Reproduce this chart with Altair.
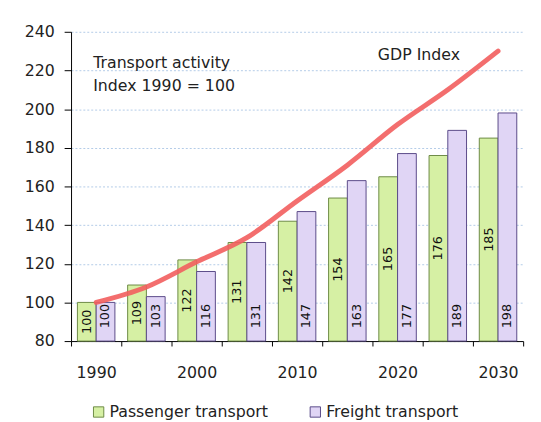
import altair as alt
import pandas as pd

years = ["1990", "1995", "2000", "2005", "2010", "2015", "2020", "2025", "2030"]
passenger = [100, 109, 122, 131, 142, 154, 165, 176, 185]
freight = [100, 103, 116, 131, 147, 163, 177, 189, 198]
gdp = [100, 108, 121, 133.5, 152.5, 171, 192, 210, 230]
series_names = ["Passenger transport", "Freight transport"]
fill_colors = ["#d6f0a4", "#e0d5f5"]
stroke_colors = ["#6d8a45", "#5a4a88"]
label_years = ["1990", "2000", "2010", "2020", "2030"]
y_ticks = [80, 100, 120, 140, 160, 180, 200, 220, 240]

FONT = "DejaVu Sans"

rows = []
for i, y in enumerate(years):
    rows.append({"year": y, "series": series_names[0], "value": passenger[i]})
    rows.append({"year": y, "series": series_names[1], "value": freight[i]})
bars_df = pd.DataFrame(rows)
bars_df["base"] = 80
bars_df["mid"] = (bars_df["value"] + 80) / 2

gdp_df = pd.DataFrame({"year": years, "gdp": gdp})

x_scale = alt.Scale(domain=years, paddingInner=0, paddingOuter=0)
y_scale = alt.Scale(domain=[80, 240], nice=False, zero=False)
off_scale = alt.Scale(domain=series_names, paddingInner=0, paddingOuter=0.34)

label_expr = "indexof(" + str(label_years) + ", datum.label) >= 0 ? datum.label : ''"

x_axis = alt.Axis(
    title=None,
    labelExpr=label_expr,
    labelAngle=0,
    tickBand="extent",
    tickSize=5,
    tickColor="#000000",
    domainColor="#000000",
    labelPadding=19,
    labelFontSize=16,
    labelFont=FONT,
    labelColor="#222222",
    labelOverlap=False,
    grid=False,
)

y_axis = alt.Axis(
    title=None,
    values=y_ticks,
    tickSize=7,
    tickColor="#000000",
    domainColor="#000000",
    labelPadding=10,
    labelFontSize=16,
    labelFont=FONT,
    labelColor="#222222",
    labelOverlap=False,
    grid=True,
    gridColor="#b3cbe8",
    gridDash=[2, 2],
    gridWidth=1,
)


def xe():
    return alt.X("year:N", scale=x_scale, sort=years, axis=x_axis)


def ye(field):
    return alt.Y(field, scale=y_scale, axis=y_axis)


legend = alt.Legend(
    title=None,
    orient="none",
    legendX=20,
    legendY=378,
    direction="horizontal",
    symbolType="square",
    symbolSize=110,
    symbolStrokeWidth=1,
    labelFontSize=16,
    labelFont=FONT,
    labelColor="#222222",
    labelOffset=3,
    labelLimit=400,
    columnPadding=40,
    padding=0,
)

bars = alt.Chart(bars_df).mark_bar(strokeWidth=1).encode(
    x=xe(),
    xOffset=alt.XOffset("series:N", scale=off_scale, sort=series_names),
    y=ye("value:Q"),
    y2=alt.Y2("base:Q"),
    fill=alt.Fill(
        "series:N",
        scale=alt.Scale(domain=series_names, range=fill_colors),
        sort=series_names,
        legend=legend,
    ),
    stroke=alt.Stroke(
        "series:N",
        scale=alt.Scale(domain=series_names, range=stroke_colors),
        sort=series_names,
        legend=legend,
    ),
)

pass_labels = alt.Chart(bars_df).transform_filter(
    alt.datum.series == series_names[0]
).mark_text(angle=270, align="center", baseline="middle", font=FONT, fontSize=13, color="#111111").encode(
    x=xe(),
    xOffset=alt.XOffset("series:N", scale=off_scale, sort=series_names),
    y=ye("mid:Q"),
    text=alt.Text("value:Q"),
)

freight_labels = alt.Chart(bars_df).transform_filter(
    alt.datum.series == series_names[1]
).mark_text(angle=270, align="left", baseline="middle", dx=13, font=FONT, fontSize=13, color="#111111").encode(
    x=xe(),
    xOffset=alt.XOffset("series:N", scale=off_scale, sort=series_names),
    y=ye("base:Q"),
    text=alt.Text("value:Q"),
)

gdp_line = alt.Chart(gdp_df).mark_line(
    color="#f25e5e", strokeWidth=5, opacity=0.9, interpolate="monotone", strokeCap="round"
).encode(
    x=xe(),
    y=ye("gdp:Q"),
)

note_df = pd.DataFrame({
    "year": ["1990", "1990"],
    "pos": [224, 212],
    "txt": ["Transport activity", "Index 1990  = 100"],
})
gdp_note_df = pd.DataFrame({"year": ["2020"], "pos": [228], "txt": ["GDP Index"]})

notes = alt.Chart(note_df).mark_text(
    align="left", baseline="middle", dx=-3, font=FONT, fontSize=16, color="#222222"
).encode(x=xe(), y=ye("pos:Q"), text="txt:N")

gdp_note = alt.Chart(gdp_note_df).mark_text(
    align="left", baseline="middle", dx=-20, font=FONT, fontSize=16, color="#222222"
).encode(x=xe(), y=ye("pos:Q"), text="txt:N")

chart = alt.layer(bars, pass_labels, freight_labels, gdp_line, notes, gdp_note).properties(
    width=459,
    height=314,
    padding={"left": 64, "top": 21, "right": 10, "bottom": 79},
    autosize=alt.AutoSizeParams(type="none"),
    background="#ffffff",
).configure_view(stroke=None)

chart.save("out.html", embed_options={"renderer": "svg", "actions": False})
